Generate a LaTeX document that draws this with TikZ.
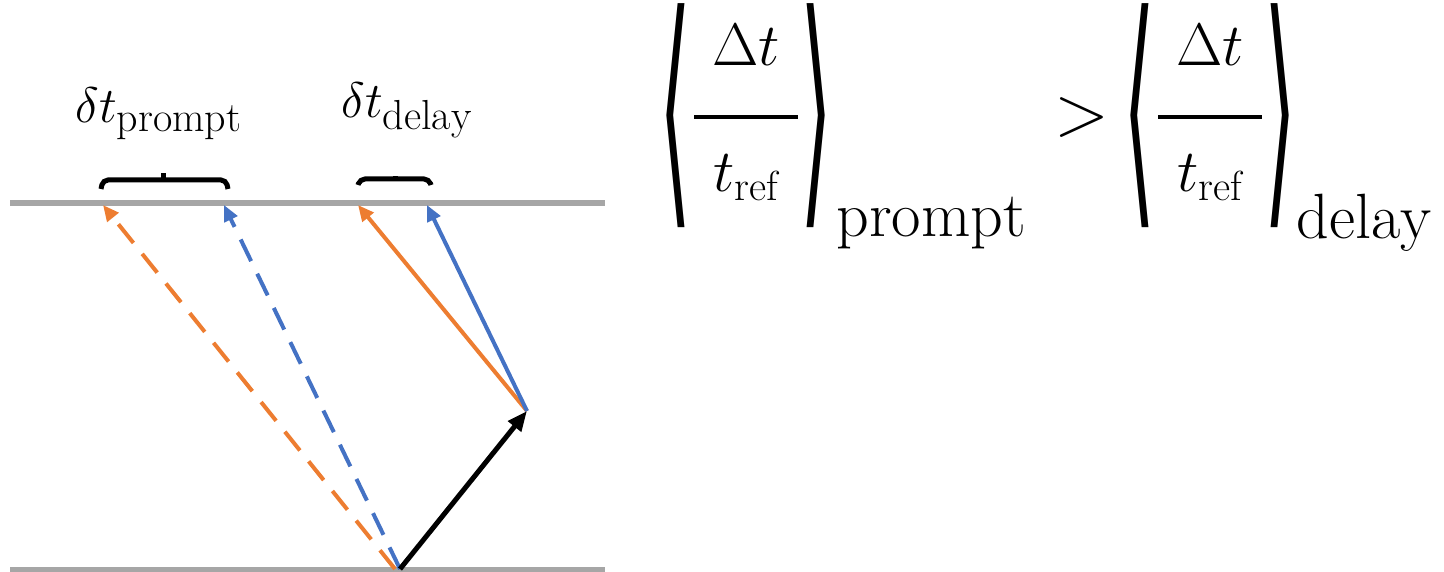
\RequirePackage{fix-cm}
\documentclass[tikz,border=0pt]{standalone}
\usepackage{amsmath}
\usepackage{graphicx}
\usepackage{fontspec}
\usepackage{xcolor}
\usepackage{tikz}
\usetikzlibrary{positioning,arrows.meta}

\newfontfamily\brfont{DejaVu Sans}

\definecolor{rayorange}{HTML}{ED7D31}
\definecolor{rayblue}{HTML}{4472C4}
\definecolor{plategray}{HTML}{A6A6A6}

\DeclareMathSizes{25}{25}{21}{15}
\DeclareMathSizes{30}{30}{21}{15}

% stretched angle bracket and the time ratio
\newcommand{\bigang}[1]{\raisebox{0.9pt}{$\vcenter{\hbox{\resizebox*{16pt}{112pt}{\brfont #1}}}$}}
\newcommand{\tratio}{\genfrac{}{}{2.4pt}{0}{\hspace{9pt}\raisebox{13pt}{$\Delta t$}\hspace{9pt}}{\raisebox{-9pt}{$t_{\mathrm{ref}}$}}}

\begin{document}
\begin{tikzpicture}[x=0.5pt, y=-0.5pt, >={Triangle[length=8pt,width=7pt]},
  plate/.style={plategray, line width=3pt},
  delayray/.style={line width=2pt, ->},
  promptray/.style={delayray, dash pattern=on 12pt off 7pt},
  kick/.style={black, line width=2.5pt, -{Triangle[length=10pt,width=8pt]}},
  bracket/.style={line width=2.5pt, rounded corners=2.5pt},
  lbl/.style={anchor=base, font=\fontsize{25}{30}\selectfont},
  eq/.style={anchor=base, inner sep=0, font=\fontsize{30}{36}\selectfont},
  eqsub/.style={anchor=base west, inner sep=0, font=\fontsize{32}{38}\selectfont}]

\useasboundingbox (0,0) rectangle (1444,572);

% Detector planes
\draw[plate] (10,203) -- (605,203);
\draw[plate] (10,570) -- (605,570);

% Emission, scattering and hit points
\coordinate (src) at (400,569);
\coordinate (srcO) at (395,569);
\coordinate (scat) at (527,411);
\coordinate (hitPO) at (103,205);
\coordinate (hitPB) at (224,205);
\coordinate (hitDO) at (358,205);
\coordinate (hitDB) at (427,205);

% Prompt rays (dashed)
\draw[promptray, rayorange] (srcO) -- (hitPO);
\draw[promptray, rayblue] (src) -- (hitPB);

% Delayed rays (solid)
\draw[delayray, rayorange] (scat) -- (hitDO);
\draw[delayray, rayblue] (scat) -- (hitDB);
\draw[kick] (src) -- (scat);

% Spreads
\draw[bracket] (101,189) -- (103,180) -- (226,180) -- (228,189);
\draw[line width=2.5pt] (163,181) -- (163,173);
\draw[bracket] (358,185) -- (360,179) -- (429,179) -- (431,185);
\draw[line width=2.5pt] (395,180) -- (395,176);
\node[lbl] (spreadP) at (159,123) {$\delta t_{\mathrm{prompt}}$};
\node[lbl] (spreadD) at (407,118) {$\delta t_{\mathrm{delay}}$};

% Inequality
\node[eq] (lhs) at (746,132) {$\bigang{⟨}\tratio\bigang{⟩}$};
\node[eqsub] (lsub) at (836,236) {$\mathrm{prompt}$};
\node[eq, anchor=center, font=\fontsize{36}{40}\selectfont] (gt) at (1082,118) {$>$};
\node[eq] (rhs) at (1210,132) {$\bigang{⟨}\tratio\bigang{⟩}$};
\node[eqsub] (rsub) at (1296,238) {$\mathrm{delay}$};

\end{tikzpicture}
\end{document}
